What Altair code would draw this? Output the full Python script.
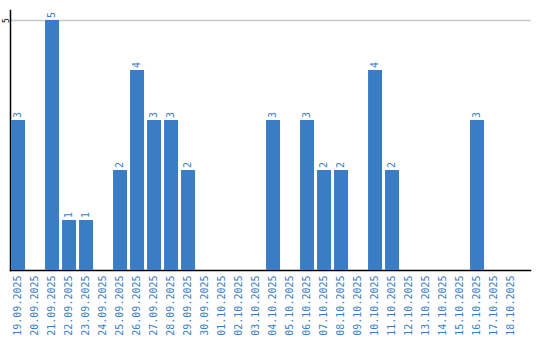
import altair as alt
import pandas as pd

dates = ["19.09.2025", "20.09.2025", "21.09.2025", "22.09.2025", "23.09.2025",
         "24.09.2025", "25.09.2025", "26.09.2025", "27.09.2025", "28.09.2025",
         "29.09.2025", "30.09.2025", "01.10.2025", "02.10.2025", "03.10.2025",
         "04.10.2025", "05.10.2025", "06.10.2025", "07.10.2025", "08.10.2025",
         "09.10.2025", "10.10.2025", "11.10.2025", "12.10.2025", "13.10.2025",
         "14.10.2025", "15.10.2025", "16.10.2025", "17.10.2025", "18.10.2025"]
counts = [3, 0, 5, 1, 1, 0, 2, 4, 3, 3,
          2, 0, 0, 0, 0, 3, 0, 3, 2, 2,
          0, 4, 2, 0, 0, 0, 0, 3, 0, 0]

df = pd.DataFrame({"date": dates, "count": counts})
df["label"] = df["count"].apply(lambda v: str(v) if v > 0 else "")

BLUE = "#3b7dc4"
FONT = "DejaVu Sans Mono"

x = alt.X("date:N", sort=dates, title=None,
          scale=alt.Scale(paddingInner=0.176, paddingOuter=0.382, align=0.08),
          axis=alt.Axis(labelAngle=-90, labelColor=BLUE, labelFont=FONT,
                        labelFontSize=10, ticks=False, domainColor="black",
                        domainWidth=1.5, labelPadding=5, grid=False))
y = alt.Y("count:Q", title=None,
          scale=alt.Scale(domain=[0, 5.2], nice=False),
          axis=alt.Axis(values=[5], labelAngle=-90, labelFont=FONT,
                        labelFontSize=8, labelColor="black", ticks=False,
                        labelBaseline="alphabetic", labelAlign="center",
                        domainColor="black", domainWidth=1.5, labelPadding=2,
                        gridColor="#c8c8c8", gridWidth=1.5))

bars = alt.Chart(df).mark_bar(color=BLUE).encode(x=x, y=y)
labels = alt.Chart(df).mark_text(angle=270, align="left", baseline="middle",
                                 dx=2, color=BLUE, font=FONT, fontSize=10).encode(
    x=alt.X("date:N", sort=dates),
    y=alt.Y("count:Q"),
    text="label:N")

chart = alt.layer(bars, labels).properties(
    width=520, height=260,
    autosize=alt.AutoSizeParams(type="none"),
    padding={"left": 10, "top": 10, "right": 10, "bottom": 70},
).configure_view(stroke=None).configure_axis(domainCap="square")

chart.save("out.html", embed_options={"renderer": "svg", "actions": False})
